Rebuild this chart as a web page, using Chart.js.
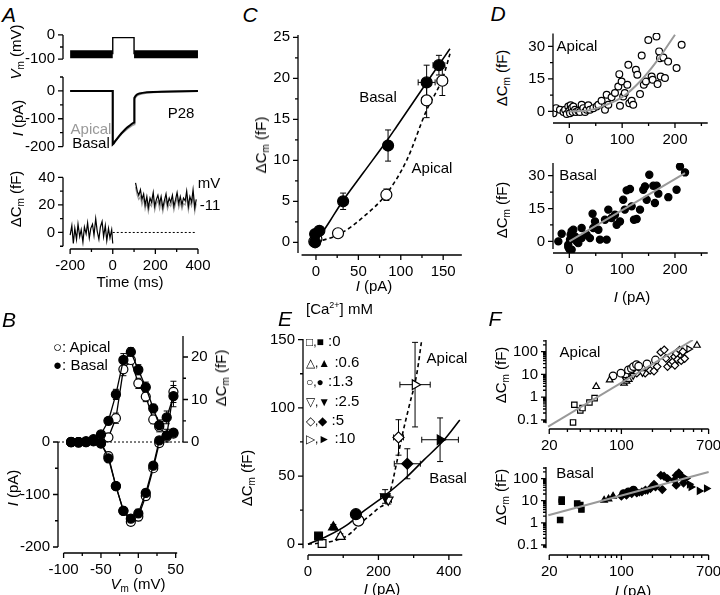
<!DOCTYPE html>
<html>
<head>
<meta charset="utf-8">
<script src="https://cdn.jsdelivr.net/npm/chart.js@4.4.1/dist/chart.umd.min.js"></script>
<style>
body { margin: 0; background: #fff; width: 720px; height: 595px; position: relative; overflow: hidden;
       font-family: "Liberation Sans", Arial, sans-serif; }
canvas { position: absolute; }
.t { position: absolute; font-size: 15px; line-height: 1; white-space: nowrap; color: #000; }
.c { transform: translate(-50%, -50%); }
.r { transform: translate(-50%, -50%) rotate(-90deg); }
.l { transform: translate(0, -50%); }
.p { font-size: 21px; font-style: italic; }
.s { font-size: 12px; }
sub { font-size: 10px; vertical-align: -3px; }
sup { font-size: 9px; vertical-align: 6px; }
</style>
</head>
<body>
<script>
// ---------- data ----------
// A: voltage step, currents and capacitance traces
const aHoldT = [-200, 0, 50, 100, 400];
const aHoldV = [-80, -80, null, -80, -80];
const aStepT = [0, 0, 100, 100];
const aStepV = [-80, -11, -11, -80];
const aIT = [-200, -100, 0, 0, 5, 10, 20, 30, 40, 50, 60, 70, 80, 90, 100, 100, 103, 108, 115, 125, 140, 160, 190, 230, 280, 340, 400];
const aIBasal = [0, 0, 0, -192, -188, -182, -172, -162, -153, -145, -137, -130, -124, -118, -113, -40, -25, -17, -12, -9, -7, -5, -4, -3, -2, -1, 0];
const aIApical = [0, 0, 0, -190, -186, -181, -172, -163, -155, -148, -141, -135, -129, -124, -120, -45, -30, -21, -16, -12, -9, -7, -5, -3, -2, -1, 0];
const aCmPreT = [-200, -192, -185, -178, -170, -163, -155, -148, -140, -133, -125, -118, -110, -103, -95, -88, -80, -73, -65, -58, -50, -43, -35, -28, -20, -13, -5, 0];
const aCmPre = [-2, 5, -8, 3, -5, 6, -3, 2, -7, 4, -1, 7, -4, 3, 6, -2, 10, 1, -5, 4, 8, -3, 5, -6, 3, -4, 2, -8];
const aCmPostT = [107, 115, 122, 130, 137, 145, 152, 160, 167, 175, 182, 190, 197, 205, 212, 220, 227, 235, 242, 250, 257, 265, 272, 280, 287, 295, 302, 310, 317, 325, 332, 340, 347, 355, 362, 370, 377, 385, 392];
const aCmPostBasal = [36, 30, 27, 31, 24, 28, 20, 26, 18, 25, 22, 29, 19, 24, 27, 21, 26, 18, 23, 28, 20, 25, 22, 27, 19, 24, 29, 21, 26, 20, 25, 23, 30, 19, 26, 22, 31, 18, 24];
const aCmPostApical = [33, 27, 24, 26, 20, 25, 17, 22, 15, 21, 19, 25, 16, 21, 23, 17, 22, 15, 20, 24, 17, 21, 19, 23, 16, 21, 25, 18, 22, 17, 21, 20, 26, 16, 22, 19, 27, 15, 21];
const aZeroT = [0, 390];

// B: I-V and Cm-V
const bV = [-90, -80, -70, -60, -50, -40, -30, -20, -10, 0, 10, 20, 28, 38, 47];
const bIBasal = [0, -1, 0, 2, -2, -31, -84, -131, -146, -136, -97, -45, 3, 12, 18];
const bIApical = [0, 0, 0, 1, -3, -27, -84, -131, -152, -142, -103, -50, -2, 10, 16];
const bIErr = [1, 1, 1, 2, 3, 4, 5, 6, 7, 8, 7, 6, 6, 5, 5];
const bCmBasal = [0, 0, 0.2, 0.7, 1.8, 5, 11.2, 19.3, 21.2, 17, 12.9, 7.9, 4, 5.8, 10.8];
const bCmApical = [0, 0, 0, 0.3, 0.9, 1.1, 5.6, 17.1, 19.3, 13.8, 10.7, 5.3, 3.6, 1.5, 11.8];
const bCmErr = [0.2, 0.2, 0.2, 0.3, 0.4, 0.6, 1.2, 1.5, 1, 1.2, 1.2, 1, 1.2, 1.5, 2.5];

// C: mean dCm vs I
const cBasalI = [-1, -1, 4, 32, 85, 130.5, 145];
const cBasalCm = [0, 1.0, 1.4, 5.0, 11.8, 19.5, 21.6];
const cBasalErrY = [0.3, 0.3, 0.5, 1.0, 1.9, 2.1, 1.2];
const cBasalErrX = [1, 1, 2, 3, 5, 10, 7];
const cApicalI = [-2, 0.5, 26, 83, 130.5, 149];
const cApicalCm = [0.1, 0.4, 1.1, 5.8, 17.3, 19.7];
const cApicalErrY = [0.2, 0.3, 0.3, 0.7, 2.1, 1.8];
const cApicalErrX = [1, 1, 2, 3, 6, 6];
const cBasalFitI = [0, 16.5, 30, 56, 85, 95, 134, 158];
const cBasalFit = [0, 2.6, 4.8, 8.5, 12.6, 14.1, 20.0, 23.6];
const cApicalFitI = [0, 28, 56, 83, 107, 130, 150, 158];
const cApicalFit = [0, 1.0, 3.1, 5.9, 10.0, 16.0, 20.2, 23.0];

// D: individual cells
const dApI = [-30, -25, -17.7, -11, -8, -5, -2, 0, 1.3, 2.5, 4.4, 6.3, 7.6, 10.7, 12.6, 17, 20, 23.3, 26.5, 29.7, 33, 36, 39, 45.4, 51.7, 55, 61, 67.5, 70.7, 73.8, 80, 86.4, 92.7, 94.6, 95.9, 99, 102, 105, 109.8, 111.7, 113.6, 118, 121, 126, 128.7, 133.8, 137, 141, 145, 149.5, 155.8, 157.7, 165, 167, 170, 171.6, 172.9, 178, 181, 187, 203, 212.6];
const dApCm = [-0.8, 1.5, 0.8, -0.3, 0.8, -1.2, 2.3, 0.3, -0.8, 2.8, 1.5, -0.3, 2.3, 0.8, -0.3, 0.3, -0.3, 3.1, 1.5, -0.3, 0.8, 2.8, 0.8, 1.5, 2.3, 3.1, 4.9, 0.8, 7.7, 3.1, 6.5, 8.5, 11.5, 17.2, 2.6, 13.8, 6.9, 8.5, 12.3, 21.5, 3.8, 4.9, 3.1, 19.2, 16.9, 8, 25.8, 12.3, 13.8, 33, 16.1, 14.6, 34.6, 12.6, 27.7, 24.6, 16.1, 24.9, 15.4, 23, 20, 30.8];
const dApFitI = [0, 35, 70.7, 102, 133.8, 165.3, 200];
const dApFit = [0, 0.4, 3.1, 6.9, 13.8, 23.1, 35.4];
const dBaI = [-20.8, -14.5, -2, -2, 0, 1.3, 2.5, 4.4, 4.4, 7.6, 10.7, 13.9, 17, 23.3, 23.3, 32.8, 39, 44, 45.4, 48.6, 55, 58, 67.5, 70.7, 73.8, 80, 86.4, 89.6, 95.9, 102, 105, 108.5, 114.8, 118, 122.4, 127.4, 133.8, 140, 143.2, 146.4, 151.4, 159, 162, 165.3, 168.5, 187.4, 203, 209.5, 219];
const dBaCm = [0, 3.5, -1.5, -2.6, -3.5, 0.8, 3, 4.6, -3.8, 5.3, 2.3, 0, -0.8, 6.1, 1.5, 3, 1.5, 12.6, 6.1, 9.1, 5.3, 0.8, 9.9, 0.8, 14.5, 10.7, 12.2, 7.6, 9.1, 19, 14.5, 23.3, 23.9, 16, 9.9, 10.2, 14.5, 23.6, 25.1, 19, 30.4, 25.4, 17.5, 25.4, 21.8, 20.2, 23.6, 34.2, 31.5];
const dBaFitI = [0, 219];
const dBaFit = [0, 31.2];

// E: [Ca2+] dependence, one point per concentration
const eConc = ['0', '0.6', '1.3', '2.5', '5', '10'];
const eApI = [40, 92, 143, 228, 257, 304];
const eApCm = [0.5, 5.6, 17.3, 32.5, 78.3, 117];
const eApErrX = [3, 5, 6, 9, 14, 43];
const eApErrY = [1, 2, 2, 3, 13, 31];
const eBaI = [30, 72, 136, 219, 282, 375];
const eBaCm = [6, 12.5, 22, 35, 59, 76.6];
const eBaErrX = [3, 6, 7, 13, 37, 52];
const eBaErrY = [2, 2, 2, 5, 11, 16];
const eBaFitI = [0, 55, 110, 157, 220, 275, 330, 385, 431];
const eBaFit = [0, 6, 14, 24, 36, 48, 62, 76, 91];
const eApFitI = [0, 66, 110, 157, 198, 228, 252, 266, 286, 309, 323];
const eApFit = [0, 2, 6, 17, 26, 34, 60, 78, 100, 125, 150];

// F: log-log, group index = position in eConc
const fApI = [34, 35, 40, 42, 49, 55, 57, 77, 106, 112, 118, 540, 83, 99, 117, 125, 131, 140, 147, 177, 214, 110, 130, 160, 112, 141, 170, 190, 207, 222, 241, 260, 270, 280, 300, 315, 327, 340, 367, 394, 330, 350, 380, 410, 400, 450];
const fApCm = [0.077, 0.46, 0.26, 0.33, 0.58, 0.9, 2.9, 5.7, 4.1, 5, 6, 190, 8.6, 11.3, 15.7, 18, 22, 27, 23, 29, 43, 6, 9, 12, 8.6, 11.3, 11.3, 15, 14, 22, 95, 120, 51, 22, 30, 36.5, 60, 85, 118, 100, 25, 45, 40, 50, 100, 130];
const fApG = [0, 0, 0, 0, 0, 0, 1, 1, 1, 1, 1, 1, 2, 2, 2, 2, 2, 2, 2, 2, 2, 3, 3, 3, 4, 4, 4, 4, 4, 4, 4, 4, 4, 4, 4, 4, 4, 4, 4, 4, 4, 4, 4, 4, 5, 5];
const fApFitI = [19.5, 492];
const fApFit = [0.05, 326];
const fBaI = [25.5, 26.4, 26.4, 37.3, 40, 41, 68, 75, 83, 105, 117, 131, 150, 180, 100, 112, 126, 141, 158, 171, 191, 207, 214, 241, 259, 249, 280, 327, 340, 360, 381, 400, 340, 424, 456, 473, 568, 667];
const fBaCm = [1.33, 8.9, 11.3, 7.5, 6.3, 4, 10.5, 12, 16, 21, 25, 30, 25, 30, 16, 17.7, 21, 22.5, 25, 30, 35.5, 55, 42, 140, 127, 32, 100, 84, 140, 180, 127, 63, 50, 100, 55, 42, 27.7, 35.5];
const fBaG = [0, 0, 0, 0, 0, 0, 1, 1, 1, 2, 2, 2, 3, 3, 4, 4, 4, 4, 4, 4, 4, 4, 4, 4, 4, 4, 4, 4, 4, 4, 4, 4, 4, 5, 5, 5, 5, 5];
const fBaFitI = [19.6, 700];
const fBaFit = [2.2, 198];

// tick values
const aTimeTicks = [-200, 0, 200, 400];
const aVmTicks = [0, -100];
const aITicks = [0, -100, -200];
const aCmTicks = [0, 20, 40];
const bVTicks = [-100, -50, 0, 50];
const bITicks = [0, -100, -200];
const bCmTicks = [0, 10, 20];
const cITicks = [0, 50, 100, 150];
const cCmTicks = [0, 5, 10, 15, 20, 25];
const dITicks = [0, 100, 200];
const dCmTicks = [0, 15, 30];
const eITicks = [0, 200, 400];
const eCmTicks = [0, 50, 100, 150];
const fITicks = [20, 100, 700];
const fCmTicks = [0.1, 1, 10, 100];

// ---------- drawing helpers ----------
Chart.defaults.font.family = '"Liberation Sans", Arial, sans-serif';
Chart.defaults.font.size = 15;
Chart.defaults.color = '#000';

const specs = {};
const groupStyle = ['rect', 'triangle', 'circle', 'triangle', 'rectRot', 'triangle'];
const groupRot = [0, 0, 0, 180, 0, 90];
const logMinor = (lo, hi) => {
  const out = [];
  for (let e = -2; e <= 3; e++) for (let m = 2; m <= 9; m++) {
    const v = m * Math.pow(10, e);
    if (v > lo && v < hi) out.push(v);
  }
  return out;
};

// axis lines and tick marks (Origin style, offset axes)
const axesPlugin = {
  id: 'axesPlugin',
  afterDatasetsDraw(chart) {
    const spec = specs[chart.canvas.id];
    if (!spec) return;
    const ctx = chart.ctx;
    ctx.save();
    ctx.strokeStyle = '#000';
    ctx.lineWidth = 1.3;
    for (const id of Object.keys(spec)) {
      const a = spec[id], s = chart.scales[id];
      if (a.hide || !s) continue;
      const p = v => s.getPixelForValue(v);
      ctx.beginPath();
      if (s.isHorizontal()) {
        const y = s.top;
        ctx.moveTo(p(a.line[0]), y); ctx.lineTo(p(a.line[1]), y);
        a.major.forEach(v => { ctx.moveTo(p(v), y); ctx.lineTo(p(v), y + 5); });
        (a.minor || []).forEach(v => { ctx.moveTo(p(v), y); ctx.lineTo(p(v), y + 3); });
      } else {
        const left = a.pos !== 'right';
        const x = left ? s.right : s.left, d = left ? -1 : 1;
        ctx.moveTo(x, p(a.line[0])); ctx.lineTo(x, p(a.line[1]));
        a.major.forEach(v => { ctx.moveTo(x, p(v)); ctx.lineTo(x + 5 * d, p(v)); });
        (a.minor || []).forEach(v => { ctx.moveTo(x, p(v)); ctx.lineTo(x + 3 * d, p(v)); });
      }
      ctx.stroke();
    }
    ctx.restore();
  }
};

// error bars from errX / errY arrays on a dataset
const errPlugin = {
  id: 'errPlugin',
  beforeDatasetsDraw(chart) {
    const ctx = chart.ctx, xs = chart.scales.x;
    chart.data.datasets.forEach(ds => {
      if (!ds.errX && !ds.errY) return;
      const ys = chart.scales[ds.yAxisID || 'y'];
      ctx.save();
      ctx.strokeStyle = ds.errColor || '#000';
      ctx.lineWidth = 1;
      ctx.beginPath();
      ds.data.forEach((pt, j) => {
        const x = xs.getPixelForValue(pt.x), y = ys.getPixelForValue(pt.y);
        const ey = ds.errY ? ds.errY[j] : 0, ex = ds.errX ? ds.errX[j] : 0;
        if (ey) {
          const y0 = ys.getPixelForValue(pt.y - ey), y1 = ys.getPixelForValue(pt.y + ey);
          ctx.moveTo(x, y0); ctx.lineTo(x, y1);
          ctx.moveTo(x - 3, y0); ctx.lineTo(x + 3, y0);
          ctx.moveTo(x - 3, y1); ctx.lineTo(x + 3, y1);
        }
        if (ex) {
          const x0 = xs.getPixelForValue(pt.x - ex), x1 = xs.getPixelForValue(pt.x + ex);
          ctx.moveTo(x0, y); ctx.lineTo(x1, y);
          ctx.moveTo(x0, y - 3); ctx.lineTo(x0, y + 3);
          ctx.moveTo(x1, y - 3); ctx.lineTo(x1, y + 3);
        }
      });
      ctx.stroke();
      ctx.restore();
    });
  }
};
Chart.register(axesPlugin, errPlugin);

function axisCfg(a, size) {
  return {
    type: a.log ? 'logarithmic' : 'linear',
    position: a.pos || undefined,
    min: a.min, max: a.max, bounds: 'data',
    display: !a.hide,
    grid: { display: false, drawTicks: false },
    border: { display: false },
    ticks: { padding: a.pad || 8, autoSkip: false, maxRotation: 0, color: '#000',
             callback: v => String(v) },
    afterBuildTicks: s => { s.ticks = a.major.map(v => ({ value: v })); },
    afterFit: s => { if (s.isHorizontal()) s.height = size; else s.width = size; }
  };
}

// box = plot area [left, top, right, bottom] on the page, pad = room for axes [l, t, r, b]
// (top/right/hidden-bottom pads are kept >= 20 so tick-label overhang never shrinks the plot area)
function mk(id, box, pad, axes, datasets) {
  const [l, t, r, b] = box, [pl, pt, pr, pb] = pad;
  const c = document.createElement('canvas');
  const w = Math.round(r - l + pl + pr), h = Math.round(b - t + pt + pb);
  c.id = id; c.width = w; c.height = h;
  Object.assign(c.style, { left: (l - pl) + 'px', top: (t - pt) + 'px', width: w + 'px', height: h + 'px' });
  document.body.appendChild(c);
  specs[id] = axes;
  const scales = {};
  for (const k of Object.keys(axes)) {
    const a = axes[k];
    const size = a.hide ? 0 : (k === 'x' ? pb : (a.pos === 'right' ? pr : pl));
    scales[k] = axisCfg(a, size);
  }
  const hasRight = axes.y2 && !axes.y2.hide;
  return new Chart(c, {
    type: 'scatter',
    data: { datasets },
    options: {
      responsive: false, animation: false, devicePixelRatio: 1,
      layout: { padding: { left: 0, top: pt, right: hasRight ? 0 : pr, bottom: axes.x.hide ? pb : 0 } },
      plugins: { legend: { display: false }, tooltip: { enabled: false } },
      scales
    }
  });
}

const pts = (xs, ys) => xs.map((x, i) => ({ x, y: ys[i] }));
function line(xs, ys, color, width, extra) {
  return Object.assign({ data: pts(xs, ys), showLine: true, pointRadius: 0, borderColor: color,
    borderWidth: width, fill: false, spanGaps: false }, extra || {});
}
function marks(xs, ys, style, filled, r, extra) {
  return Object.assign({ data: pts(xs, ys), showLine: false, pointStyle: style, pointRadius: r,
    pointBackgroundColor: filled ? '#000' : '#fff', pointBorderColor: '#000', pointBorderWidth: 1.2 }, extra || {});
}
function txt(html, cx, cy, cls, css) {
  const d = document.createElement('div');
  d.className = 't ' + (cls || 'c');
  d.innerHTML = html;
  d.style.left = cx + 'px';
  d.style.top = cy + 'px';
  if (css) d.style.cssText += css;
  document.body.appendChild(d);
}

// ---------- panel A ----------
const aX = { min: -233.5, max: 433, major: aTimeTicks, minor: [-100, 100, 300], line: [-200, 400] };
mk('a1', [63, 33.1, 205, 60.6], [43, 22, 22, 22],
  { x: Object.assign({}, aX, { hide: true }),
    y: { min: -108, max: 8, major: aVmTicks, minor: [-50], line: [-100, 0] } },
  [ line(aStepT, aStepV, '#000', 1.4),
    line(aHoldT, aHoldV, '#000', 8, { borderCapStyle: 'butt' }) ]);
mk('a2', [63, 77, 205, 148.4], [43, 22, 22, 22],
  { x: Object.assign({}, aX, { hide: true }),
    y: { min: -205, max: 50, major: aITicks, minor: [50, -50, -150], line: [-200, 50] } },
  [ line(aIT, aIBasal, '#000', 2), line(aIT, aIApical, '#999', 2) ]);
mk('a3', [63, 175.6, 205, 248.5], [43, 22, 22, 40],
  { x: aX,
    y: { min: -12, max: 41, major: aCmTicks, minor: [-10, 10, 30], line: [-10, 40] } },
  [ line(aCmPreT, aCmPre, '#000', 1.2),
    line(aCmPostT, aCmPostBasal, '#000', 1.2),
    line(aCmPostT, aCmPostApical, '#999', 1.2),
    line(aZeroT, [0, 0], '#000', 1, { borderDash: [2, 2] }) ]);

txt('A', 9, 14, 'c p');
txt('<i>V</i><sub>m</sub> (mV)', 17, 52, 'r');
txt('<i>I</i> (pA)', 17, 118, 'r');
txt('ΔC<sub>m</sub> (fF)', 17, 199, 'r');
txt('Time (ms)', 130, 281);
txt('Apical', 91, 128, 'c', 'color:#999');
txt('Basal', 91, 142);
txt('P28', 181, 112);
txt('mV', 209, 182);
txt('-11', 210, 204);

// ---------- panel B ----------
mk('b', [58, 336, 183, 553], [48, 22, 45, 40],
  { x: { min: -107.5, max: 59.8, major: bVTicks, minor: [-75, -25, 25], line: [-100, 52] },
    y: { min: -211.4, max: 201.9, major: bITicks, minor: [-50, -150], line: [-200, 0] },
    y2: { pos: 'right', min: -26.1, max: 24.94, major: bCmTicks, minor: [5, 15], line: [0, 24.94] } },
  [ line(bV, bIBasal, '#000', 1.3, { pointRadius: 4.5, pointStyle: 'circle', pointBackgroundColor: '#000', pointBorderColor: '#000', errY: bIErr }),
    line(bV, bCmBasal, '#000', 1.3, { yAxisID: 'y2', pointRadius: 4.5, pointStyle: 'circle', pointBackgroundColor: '#000', pointBorderColor: '#000', errY: bCmErr }),
    line(bV, bIApical, '#000', 1.3, { pointRadius: 4.5, pointStyle: 'circle', pointBackgroundColor: '#fff', pointBorderColor: '#000', pointBorderWidth: 1.2, errY: bIErr }),
    line(bV, bCmApical, '#000', 1.3, { yAxisID: 'y2', pointRadius: 4.5, pointStyle: 'circle', pointBackgroundColor: '#fff', pointBorderColor: '#000', pointBorderWidth: 1.2, errY: bCmErr }),
    line([-107.5, 59.8], [0, 0], '#000', 1, { borderDash: [2, 2] }) ]);

txt('B', 9, 319, 'c p');
txt('<i>I</i> (pA)', 12, 488, 'r');
txt('<i>V</i><sub>m</sub> (mV)', 138, 585);
txt('ΔC<sub>m</sub> (fF)', 222, 378, 'r');
txt('○: Apical', 53, 346, 'l');
txt('●: Basal', 53, 364, 'l');

// ---------- panel C ----------
mk('c', [298, 35, 462, 255], [30, 22, 22, 40],
  { x: { min: -21.2, max: 172.2, major: cITicks, minor: [25, 75, 125], line: [-17, 172] },
    y: { min: -1.55, max: 25.28, major: cCmTicks, minor: [2.5, 7.5, 12.5, 17.5, 22.5], line: [-1.3, 25.28] } },
  [ marks(cBasalI, cBasalCm, 'circle', true, 5.5, { errX: cBasalErrX, errY: cBasalErrY }),
    marks(cApicalI, cApicalCm, 'circle', false, 5.5, { errX: cApicalErrX, errY: cApicalErrY }),
    line(cBasalFitI, cBasalFit, '#000', 1.6, { cubicInterpolationMode: 'monotone' }),
    line(cApicalFitI, cApicalFit, '#000', 1.6, { borderDash: [4, 3], cubicInterpolationMode: 'monotone' }) ]);

txt('C', 250, 14, 'c p');
txt('ΔC<sub>m</sub> (fF)', 262, 145, 'r');
txt('<i>I</i> (pA)', 374, 285);
txt('Basal', 378, 96);
txt('Apical', 432, 167);

// ---------- panel D ----------
const dX = { min: -30.9, max: 262.5, major: dITicks, minor: [50, 150, 250], line: [-30.9, 262] };
mk('d1', [553.3, 33.3, 708.3, 123.3], [30, 22, 22, 30],
  { x: dX, y: { min: -5.35, max: 36.2, major: dCmTicks, minor: [7.5, 22.5], line: [-2.3, 36] } },
  [ line(dApFitI, dApFit, '#999', 2, { cubicInterpolationMode: 'monotone' }),
    marks(dApI, dApCm, 'circle', false, 3.4) ]);
mk('d2', [553.3, 163.3, 708.3, 253.3], [30, 22, 22, 30],
  { x: dX, y: { min: -5.3, max: 35.8, major: dCmTicks, minor: [7.5, 22.5], line: [-3.5, 35.8] } },
  [ line(dBaFitI, dBaFit, '#999', 2),
    marks(dBaI, dBaCm, 'circle', true, 3.6) ]);

txt('D', 498, 13, 'c p');
txt('ΔC<sub>m</sub> (fF)', 503, 78, 'r');
txt('ΔC<sub>m</sub> (fF)', 503, 210, 'r');
txt('<i>I</i> (pA)', 632, 296);
txt('Apical', 577, 45);
txt('Basal', 578, 174);

// ---------- panel E ----------
const eSets = [];
eConc.forEach((c, g) => {
  eSets.push(marks([eBaI[g]], [eBaCm[g]], groupStyle[g], true, 5.5,
    { rotation: groupRot[g], errX: [eBaErrX[g]], errY: [eBaErrY[g]] }));
  eSets.push(marks([eApI[g]], [eApCm[g]], groupStyle[g], false, 5.5,
    { rotation: groupRot[g], errX: [eApErrX[g]], errY: [eApErrY[g]] }));
});
eSets.push(line(eBaFitI, eBaFit, '#000', 1.6, { cubicInterpolationMode: 'monotone' }));
eSets.push(line(eApFitI, eApFit, '#000', 1.6, { borderDash: [4, 3], cubicInterpolationMode: 'monotone' }));
mk('e', [302.7, 338.3, 470, 555], [45, 22, 22, 40],
  { x: { min: -14.2, max: 460, major: eITicks, minor: [100, 300], line: [0, 438] },
    y: { min: -7.9, max: 151.2, major: eCmTicks, minor: [25, 75, 125], line: [-3, 150.4] } },
  eSets);

txt('E', 285, 318, 'c p');
txt('ΔC<sub>m</sub> (fF)', 248, 478, 'r');
txt('<i>I</i> (pA)', 382, 588);
txt('Apical', 447, 357);
txt('Basal', 448, 477);
txt('[Ca<sup>2+</sup>] mM', 306, 308, 'l');
const eSym = ['□,■', '△,▲', '○,●', '▽,▼', '◇,◆', '▷,►'];
const eRowY = [340, 360.5, 380, 400, 418.5, 437];
eConc.forEach((c, g) => txt('<span class="s">' + eSym[g] + '</span> :' + c, 306, eRowY[g], 'l'));

// ---------- panel F ----------
function fSets(xs, ys, gs, filled) {
  const out = [];
  for (let g = 0; g < 6; g++) {
    const ix = gs.map((v, i) => v === g ? i : -1).filter(i => i >= 0);
    if (!ix.length) continue;
    out.push(marks(ix.map(i => xs[i]), ix.map(i => ys[i]), groupStyle[g], filled, 3.8, { rotation: groupRot[g] }));
  }
  return out;
}
const fX = { log: true, min: 18.6, max: 755, major: fITicks, minor: logMinor(20, 700), line: [20, 700] };
mk('f1', [546, 340, 712, 429.3], [36, 22, 22, 30],
  { x: fX, y: { log: true, min: 0.0395, max: 326, major: fCmTicks, minor: logMinor(0.07, 326), line: [0.07, 326] } },
  [ line(fApFitI, fApFit, '#999', 2) ].concat(fSets(fApI, fApCm, fApG, false)));
mk('f2', [546, 466.7, 712, 555], [36, 22, 22, 30],
  { x: fX, y: { log: true, min: 0.035, max: 333, major: fCmTicks, minor: logMinor(0.07, 333), line: [0.07, 333] } },
  [ line(fBaFitI, fBaFit, '#999', 2) ].concat(fSets(fBaI, fBaCm, fBaG, true)));

txt('F', 495, 318, 'c p');
txt('ΔC<sub>m</sub> (fF)', 502, 375, 'r');
txt('ΔC<sub>m</sub> (fF)', 502, 497, 'r');
txt('<i>I</i> (pA)', 633, 590);
txt('Apical', 580, 351);
txt('Basal', 575, 472);
</script>
</body>
</html>
